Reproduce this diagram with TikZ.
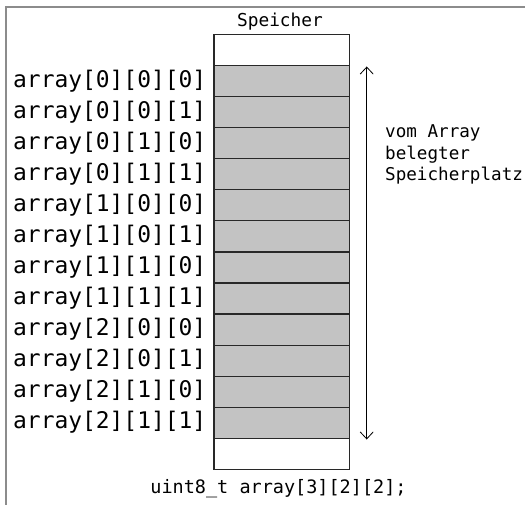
\documentclass[tikz,border=0pt]{standalone}
\usepackage{fontspec}
\setmonofont{DejaVu Sans Mono}
\usetikzlibrary{arrows.meta}
\definecolor{cellgray}{RGB}{195,195,195}
\definecolor{framegray}{RGB}{140,140,140}
\definecolor{linegray}{RGB}{40,40,40}

\begin{document}
\begin{tikzpicture}[x=1pt,y=-1pt,
  cell/.style={draw=linegray, line width=1.2pt, fill=cellgray,
    minimum width=135.7pt, minimum height=31.05pt, inner sep=0pt,
    outer sep=0pt, anchor=north west},
  emptycell/.style={cell, fill=white},
  idx/.style={anchor=base west, inner sep=0pt,
    font=\fontsize{22.9}{26}\selectfont\ttfamily},
  caption/.style={anchor=base, inner sep=0pt,
    font=\fontsize{17.8}{21}\selectfont\ttfamily},
  note/.style={anchor=north west, inner sep=0pt, align=left,
    font=\fontsize{17.6}{21.5}\selectfont\ttfamily},
  memarrow/.style={draw=black, line width=0.8pt,
    {Straight Barb[length=7pt,width=13pt]}-{Straight Barb[length=7pt,width=13pt]}},
  frame/.style={draw=framegray, line width=2pt}]

\useasboundingbox (0,0) rectangle (525,505);

% outer window frame
\draw[frame] (6,515) -- (6,7) -- (535,7);

% memory column: one free cell above, twelve array cells, one free cell below
\node[emptycell] (cellT) at (214,34.6) {};
\foreach \i in {0,...,11}{
  \node[cell] (cell\i) at (214,{65.65+31.05*\i}) {};
  \pgfmathtruncatemacro{\ia}{\i/4}
  \pgfmathtruncatemacro{\ib}{mod(\i/2,2)}
  \pgfmathtruncatemacro{\ic}{mod(\i,2)}
  \node[idx] (lab\i) at (13,{65.65+31.05*\i+21.5}) {array[\ia][\ib][\ic]};
}
\node[emptycell] (cellB) at (214,438.25) {};

\node[caption] (title) at (280,26.5) {Speicher};
\node[caption, font=\fontsize{18.5}{22}\selectfont\ttfamily] (decl) at (278.5,493.7) {uint8\_t array[3][2][2];};

% extent of the array in memory
\coordinate (atop) at (366.7,66.5);
\coordinate (abot) at (366.7,439.5);
\draw[memarrow] (abot) -- (atop);

\node[note] (desc) at (385,124.5) {vom Array\\belegter\\Speicherplatz};
\end{tikzpicture}
\end{document}
